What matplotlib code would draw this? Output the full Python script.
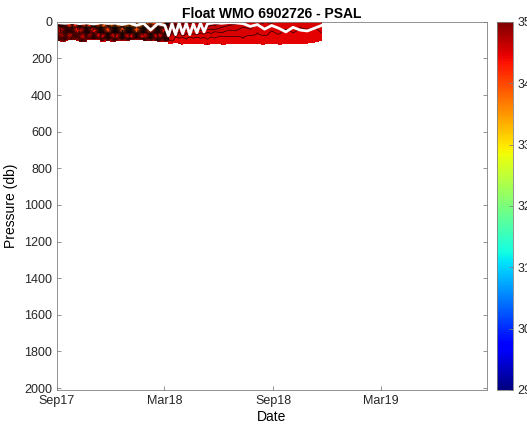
import numpy as np
import pandas as pd
import matplotlib
matplotlib.use("Agg")
import matplotlib.pyplot as plt
import matplotlib.dates as mdates
from matplotlib.colors import Normalize
from matplotlib.cm import ScalarMappable

plt.rcParams['font.family'] = ['Liberation Sans', 'DejaVu Sans']

# profile dates of float 6902726
prof_dates = pd.to_datetime([
    "2017-09-03", "2017-09-15", "2017-09-27", "2017-10-09", "2017-10-21",
    "2017-11-02", "2017-11-14", "2017-11-26", "2017-12-08", "2017-12-20",
    "2018-01-01", "2018-01-13", "2018-01-25", "2018-02-06", "2018-02-18",
    "2018-03-02", "2018-03-08", "2018-03-14", "2018-03-20", "2018-03-26",
    "2018-04-01", "2018-04-07", "2018-04-13", "2018-04-19", "2018-04-25",
    "2018-05-01", "2018-05-07", "2018-05-13", "2018-05-19", "2018-05-25",
    "2018-06-06", "2018-06-18",
    "2018-06-30", "2018-07-12", "2018-07-24", "2018-08-05", "2018-08-17",
    "2018-08-29", "2018-09-10", "2018-09-22", "2018-10-04", "2018-10-16",
    "2018-10-28", "2018-11-09", "2018-11-21",
])

# sampled pressure levels (db)
pres_levels = [0, 30, 60, 90, 120]

# salinity at each profile / level
psal = [
    [34.40, 34.75, 34.55, 34.90, 34.60],
    [33.90, 34.45, 34.85, 34.45, 34.90],
    [34.50, 34.05, 34.60, 34.80, 34.50],
    [33.80, 34.50, 34.20, 34.55, 34.85],
    [34.35, 33.90, 34.75, 34.30, 34.60],
    [33.60, 34.40, 34.30, 34.85, 34.40],
    [34.20, 33.70, 34.65, 34.35, 34.90],
    [33.50, 34.10, 34.05, 34.80, 34.45],
    [34.00, 33.50, 34.60, 34.30, 34.88],
    [33.40, 34.00, 34.00, 34.75, 34.40],
    [33.85, 33.40, 34.55, 34.25, 34.85],
    [33.45, 33.95, 33.90, 34.70, 34.50],
    [34.10, 33.55, 34.50, 34.30, 34.90],
    [33.60, 34.15, 34.05, 34.80, 34.45],
    [34.30, 33.80, 34.65, 34.35, 34.90],
    [33.90, 34.40, 34.25, 34.85, 34.55],
    [34.75, 34.45, 34.70, 34.50, 34.48],
    [34.60, 34.72, 34.48, 34.55, 34.45],
    [34.78, 34.50, 34.68, 34.47, 34.50],
    [34.62, 34.70, 34.52, 34.50, 34.44],
    [34.76, 34.55, 34.64, 34.48, 34.47],
    [34.66, 34.68, 34.55, 34.51, 34.45],
    [34.74, 34.62, 34.60, 34.47, 34.48],
    [34.68, 34.66, 34.56, 34.50, 34.46],
    [34.72, 34.64, 34.58, 34.48, 34.45],
    [34.70, 34.66, 34.55, 34.50, 34.47],
    [34.71, 34.63, 34.57, 34.49, 34.46],
    [34.69, 34.65, 34.54, 34.51, 34.45],
    [34.70, 34.62, 34.56, 34.48, 34.47],
    [34.68, 34.64, 34.53, 34.50, 34.46],
    [34.66, 34.60, 34.55, 34.47, 34.45],
    [34.64, 34.58, 34.52, 34.49, 34.46],
    [34.62, 34.57, 34.54, 34.48, 34.45],
    [34.60, 34.55, 34.51, 34.50, 34.47],
    [34.58, 34.56, 34.53, 34.47, 34.46],
    [34.57, 34.53, 34.50, 34.49, 34.45],
    [34.55, 34.54, 34.52, 34.48, 34.47],
    [34.56, 34.52, 34.49, 34.50, 34.46],
    [34.54, 34.53, 34.51, 34.47, 34.45],
    [34.55, 34.51, 34.48, 34.49, 34.47],
    [34.53, 34.52, 34.50, 34.48, 34.46],
    [34.54, 34.50, 34.49, 34.47, 34.45],
    [34.52, 34.51, 34.48, 34.49, 34.46],
    [34.53, 34.50, 34.49, 34.48, 34.47],
    [34.52, 34.51, 34.50, 34.47, 34.46],
]

# shallowest / deepest sample of each profile (db)
min_pres = [8, 12, 5, 10, 6, 14, 4, 9, 11, 6, 13, 5, 10, 7, 12, 6,
            3, 5, 2, 4, 3, 2, 4, 2, 3, 2, 4, 3, 2, 3, 2, 4, 3, 2, 3, 2, 3, 4,
            2, 3, 2, 4, 3, 2, 3]
max_pres = [105, 112, 98, 118, 108, 95, 115, 104, 120, 100, 110, 96, 116, 102, 119, 107,
            118, 122, 115, 120, 124, 117, 121, 119, 123, 118, 122, 125, 120, 118, 124, 121,
            119, 123, 117, 120, 122, 118, 124, 121, 119, 123, 117, 112, 105]

# mixed layer depth (white line)
mld = [5, 8, 4, 10, 6, 12, 5, 9, 7, 15, 6, 20, 8, 45, 10, 20,
       75, 10, 70, 5, 65, 8, 70, 12, 60, 6, 55, 10, 8, 5,
       8, 4, 6, 10, 25, 15, 40, 20, 35, 55, 30, 45, 50, 35, 20]

psal = np.array(psal)
pres_fine = np.arange(0, 131, 2)
grid = np.array([np.interp(pres_fine, pres_levels, row) for row in psal])
mask = (pres_fine[None, :] < np.array(min_pres)[:, None]) | (pres_fine[None, :] > np.array(max_pres)[:, None])
grid = np.ma.masked_array(grid, mask)

fig = plt.figure(figsize=(5.27, 4.28), dpi=100)
ax = fig.add_axes([0.108, 0.089, 0.816, 0.86])
cax = fig.add_axes([0.943, 0.089, 0.030, 0.86])

xnum = mdates.date2num(prof_dates)
levels = np.arange(29, 35.01, 0.05)
ax.contourf(xnum, pres_fine, grid.T, levels=levels, cmap='jet', vmin=29, vmax=35)
ax.contour(xnum, pres_fine, grid.T, levels=levels, colors='k', linewidths=0.4)
ax.plot(xnum, mld, color='white', lw=2)

ax.set_xlim(mdates.date2num(pd.Timestamp("2017-09-01")), mdates.date2num(pd.Timestamp("2019-08-27")))
ax.set_ylim(2010, 0)
ax.set_yticks(np.arange(0, 2001, 200))
tick_dates = pd.to_datetime(["2017-09-01", "2018-03-01", "2018-09-01", "2019-03-01"])
ax.set_xticks(mdates.date2num(tick_dates))
ax.xaxis.set_major_formatter(mdates.DateFormatter("%b%y"))

for a in (ax, cax):
    for s in a.spines.values():
        s.set_color('#808080')
        s.set_linewidth(0.6)
    a.tick_params(direction='in', length=3, width=0.6, colors='#808080', labelcolor='#262626', labelsize=9)
ax.tick_params(top=False, right=True)

ax.set_title("Float WMO 6902726 - PSAL", fontsize=10, fontweight='bold', pad=3)
ax.set_ylabel("Pressure (db)", fontsize=10)
ax.set_xlabel("Date", fontsize=10, labelpad=2)

sm = ScalarMappable(norm=Normalize(29, 35), cmap='jet')
cb = fig.colorbar(sm, cax=cax)
cb.set_ticks(range(29, 36))
cb.outline.set_edgecolor('#808080')
cb.outline.set_linewidth(0.6)

fig.savefig("out.png", dpi=100)
